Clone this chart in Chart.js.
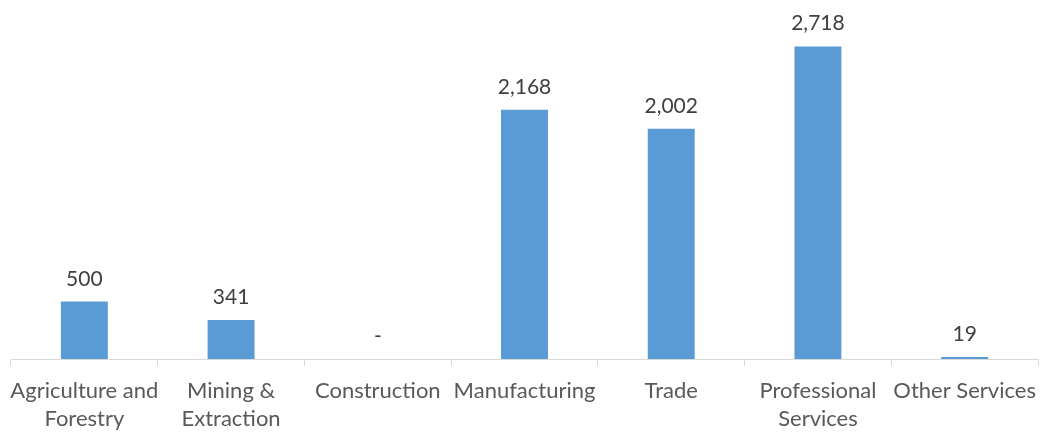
<!DOCTYPE html>
<html lang="en">
<head>
  <meta charset="UTF-8">
  <title>Employment by Sector</title>
  <style>
    body {
      margin: 0;
      background: #ffffff;
    }
    #chartContainer {
      width: 1041px;
      height: 432px;
    }
  </style>
</head>
<body>
  <div id="chartContainer">
    <canvas id="sectorChart"></canvas>
  </div>

  <script src="https://cdn.jsdelivr.net/npm/chart.js"></script>
  <script>
    const categories = [
      ['Agriculture and', 'Forestry'],
      ['Mining &', 'Extraction'],
      'Construction',
      'Manufacturing',
      'Trade',
      ['Professional', 'Services'],
      'Other Services'
    ];
    const values = [500, 341, 0, 2168, 2002, 2718, 19];

    // draws the value above each bar, "-" for zero
    const valueLabels = {
      id: 'valueLabels',
      afterDatasetsDraw(chart) {
        const ctx = chart.ctx;
        const meta = chart.getDatasetMeta(0);
        ctx.save();
        ctx.font = '21px Lato, "Open Sans", sans-serif';
        ctx.fillStyle = '#404040';
        ctx.textAlign = 'center';
        ctx.textBaseline = 'alphabetic';
        meta.data.forEach((bar, i) => {
          const v = values[i];
          const text = v === 0 ? '-' : v.toLocaleString('en-US');
          ctx.fillText(text, bar.x, bar.y - 16);
        });
        ctx.restore();
      }
    };

    const ctx = document.getElementById('sectorChart').getContext('2d');
    new Chart(ctx, {
      type: 'bar',
      data: {
        labels: categories,
        datasets: [{
          data: values,
          backgroundColor: '#5B9BD5',
          barPercentage: 0.32,
          categoryPercentage: 1.0
        }]
      },
      options: {
        responsive: true,
        maintainAspectRatio: false,
        animation: false,
        layout: {
          padding: { left: 11, right: 3, top: 14, bottom: -12 }
        },
        plugins: {
          legend: { display: false },
          tooltip: { enabled: false }
        },
        scales: {
          x: {
            // labels may overflow slightly, keep the axis full width
            afterFit(scale) {
              scale.paddingLeft = 0;
              scale.paddingRight = 0;
            },
            grid: {
              offset: true,
              drawOnChartArea: false,
              tickLength: 7,
              color: '#d9d9d9'
            },
            border: { color: '#d9d9d9' },
            ticks: {
              color: '#595959',
              font: { family: 'Lato, "Open Sans", sans-serif', size: 22, lineHeight: 1.27 },
              maxRotation: 0,
              autoSkip: false,
              padding: 11
            }
          },
          y: {
            display: false,
            min: 0,
            max: 3000
          }
        }
      },
      plugins: [valueLabels]
    });
  </script>
</body>
</html>
